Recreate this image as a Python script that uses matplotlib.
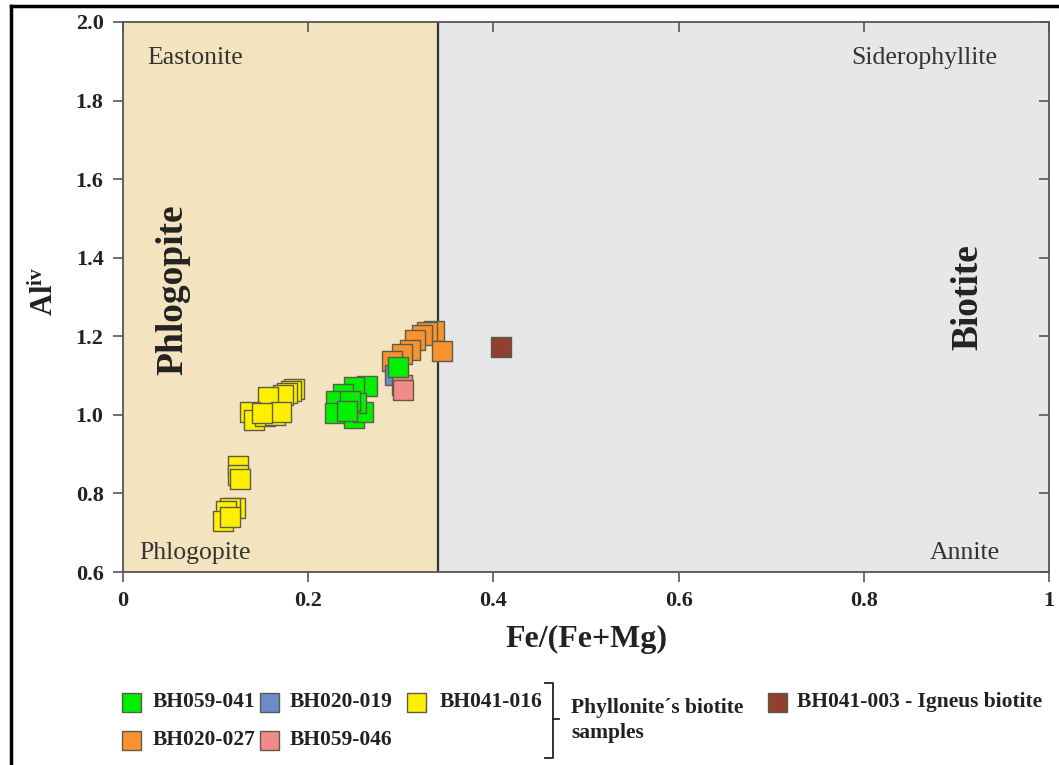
import matplotlib
matplotlib.use('Agg')
import matplotlib.pyplot as plt
from matplotlib.patches import Rectangle
from matplotlib.lines import Line2D

plt.rcParams['font.family'] = ['Liberation Serif', 'DejaVu Serif']
plt.rcParams['mathtext.fontset'] = 'custom'
plt.rcParams['mathtext.rm'] = 'Liberation Serif'
plt.rcParams['mathtext.bf'] = 'Liberation Serif:bold'
plt.rcParams['mathtext.it'] = 'Liberation Serif:italic'

# ---------------- data ----------------
bh059_041_x = [0.263, 0.249, 0.238, 0.230, 0.229, 0.249, 0.2595, 0.252, 0.245, 0.242, 0.297]
bh059_041_y = [1.074, 1.071, 1.054, 1.034, 1.004, 0.992, 1.008, 1.030, 1.035, 1.010, 1.122]

bh020_019_x = [0.294]
bh020_019_y = [1.101]

bh041_016_x = [0.185, 0.181, 0.177, 0.173, 0.157, 0.137, 0.142, 0.153, 0.164, 0.171, 0.150,
               0.124, 0.124, 0.126,
               0.121, 0.116, 0.111, 0.108, 0.116]
bh041_016_y = [1.066, 1.061, 1.056, 1.051, 1.045, 1.006, 0.987, 0.996, 1.000, 1.007, 1.004,
               0.870, 0.847, 0.837,
               0.763, 0.763, 0.755, 0.730, 0.740]

bh020_027_x = [0.3355, 0.328, 0.3225, 0.3157, 0.310, 0.301, 0.290, 0.344]
bh020_027_y = [1.214, 1.210, 1.203, 1.191, 1.164, 1.155, 1.137, 1.162]

bh059_046_x = [0.3016, 0.302]
bh059_046_y = [1.075, 1.063]

bh041_003_x = [0.408]
bh041_003_y = [1.173]

x_ticks = [0, 0.2, 0.4, 0.6, 0.8, 1.0]
x_tick_labels = ['0', '0.2', '0.4', '0.6', '0.8', '1']
y_ticks = [0.6, 0.8, 1.0, 1.2, 1.4, 1.6, 1.8, 2.0]
y_tick_labels = ['0.6', '0.8', '1.0', '1.2', '1.4', '1.6', '1.8', '2.0']

boundary = 0.34

# plotting order (bottom to top) with colours
series = [
    ('BH020-027', bh020_027_x, bh020_027_y, '#F7922F'),
    ('BH020-019', bh020_019_x, bh020_019_y, '#6A8CCB'),
    ('BH059-046', bh059_046_x, bh059_046_y, '#F28A8A'),
    ('BH041-016', bh041_016_x, bh041_016_y, '#FFF000'),
    ('BH059-041', bh059_041_x, bh059_041_y, '#00F000'),
    ('BH041-003 - Igneus biotite', bh041_003_x, bh041_003_y, '#923F2D'),
]
colors = {name: c for name, _, _, c in series}

W, H = 1059, 765
fig = plt.figure(figsize=(W / 100, H / 100), dpi=100)
fig.patch.set_facecolor('white')

def fx(px):
    return px / W

def fy(py):
    return 1 - py / H

ax = fig.add_axes([fx(123), fy(572), fx(1049) - fx(123), fy(22) - fy(572)])
ax.set_xlim(0, 1)
ax.set_ylim(0.6, 2.0)

ax.axvspan(0, boundary, color='#F3E4BF', zorder=0, lw=0)
ax.axvspan(boundary, 1, color='#E6E7E9', zorder=0, lw=0)
ax.axvline(boundary, color='#333333', lw=1.6, zorder=1)

for name, xs, ys, c in series:
    ax.scatter(xs, ys, marker='s', s=195, facecolor=c, edgecolor='#5c5c4c',
               linewidths=1.0, zorder=3)

for sp in ax.spines.values():
    sp.set_color('#555555')
    sp.set_linewidth(1.3)

ax.set_xticks(x_ticks)
ax.set_xticklabels(x_tick_labels)
ax.set_yticks(y_ticks)
ax.set_yticklabels(y_tick_labels)
ax.tick_params(axis='both', direction='out', length=7, width=1.2, color='#555555',
               labelsize=16)
ax.tick_params(axis='x', pad=7)
ax.tick_params(axis='y', pad=7)
for lab in ax.get_xticklabels() + ax.get_yticklabels():
    lab.set_fontweight('bold')
    lab.set_color('#222222')

# top/right ticks pointing inward
ax2 = ax.twinx()
ax2.set_ylim(0.6, 2.0)
ax2.set_yticks(y_ticks)
ax2.tick_params(axis='y', direction='in', length=7, width=1.2, color='#555555',
                labelright=False)
ax3 = ax.twiny()
ax3.set_xlim(0, 1)
ax3.set_xticks(x_ticks)
ax3.tick_params(axis='x', direction='in', length=7, width=1.2, color='#555555',
                labeltop=False)
for a in (ax2, ax3):
    for sp in a.spines.values():
        sp.set_visible(False)

ax.set_xlabel('Fe/(Fe+Mg)', fontsize=23, fontweight='bold', color='#222222', labelpad=10)
fig.text(fx(45), fy(291), r'$\mathbf{Al}^{\mathbf{iv}}$', rotation=90, ha='center',
         va='center', fontsize=22, color='#222222')

txt = dict(color='#333333', fontsize=18.5)
ax.text(0.026, 1.908, 'Eastonite', ha='left', va='center', **txt)
ax.text(0.944, 1.908, 'Siderophyllite', ha='right', va='center', **txt)
ax.text(0.018, 0.649, 'Phlogopite', ha='left', va='center', **txt)
ax.text(0.947, 0.649, 'Annite', ha='right', va='center', **txt)
ax.text(0.054, 1.318, 'Phlogopite', rotation=90, ha='center', va='center',
        fontsize=27, fontweight='bold', color='#222222')
ax.text(0.912, 1.30, 'Biotite', rotation=90, ha='center', va='center',
        fontsize=27, fontweight='bold', color='#222222')

# ---------------- legend (manual) ----------------
leg_items = [
    ('BH059-041', 122, 702, 153),
    ('BH020-019', 260, 702, 290),
    ('BH041-016', 407, 702, 440),
    ('BH020-027', 122, 740, 153),
    ('BH059-046', 260, 740, 290),
    ('BH041-003 - Igneus biotite', 768, 702, 797),
]
sq = 19
for name, x0, yc, tx in leg_items:
    fig.add_artist(Rectangle((fx(x0), fy(yc + sq / 2)), sq / W, sq / H,
                             transform=fig.transFigure, facecolor=colors[name],
                             edgecolor='#5c5c4c', lw=1.0))
    fig.text(fx(tx), fy(yc), name, ha='left', va='center', fontsize=15.5,
             fontweight='bold', color='#222222')

# bracket
bx = 553
fig.add_artist(Line2D([fx(bx - 8), fx(bx), fx(bx), fx(bx - 8)],
                      [fy(683), fy(683), fy(758), fy(758)],
                      transform=fig.transFigure, color='#222222', lw=1.3))
fig.add_artist(Line2D([fx(bx), fx(bx + 6)], [fy(719), fy(719)],
                      transform=fig.transFigure, color='#222222', lw=1.3))
fig.text(fx(571), fy(708), 'Phyllonite\u00b4s biotite', ha='left', va='center',
         fontsize=15.5, fontweight='bold', color='#222222')
fig.text(fx(571), fy(733), 'samples', ha='left', va='center',
         fontsize=15.5, fontweight='bold', color='#222222')

# outer frame (left and top edges)
fig.add_artist(Line2D([fx(11), fx(11)], [0, fy(6)], transform=fig.transFigure,
                      color='black', lw=2.5))
fig.add_artist(Line2D([fx(11), 1], [fy(6), fy(6)], transform=fig.transFigure,
                      color='black', lw=2.5))

fig.savefig('out.png', dpi=100)
